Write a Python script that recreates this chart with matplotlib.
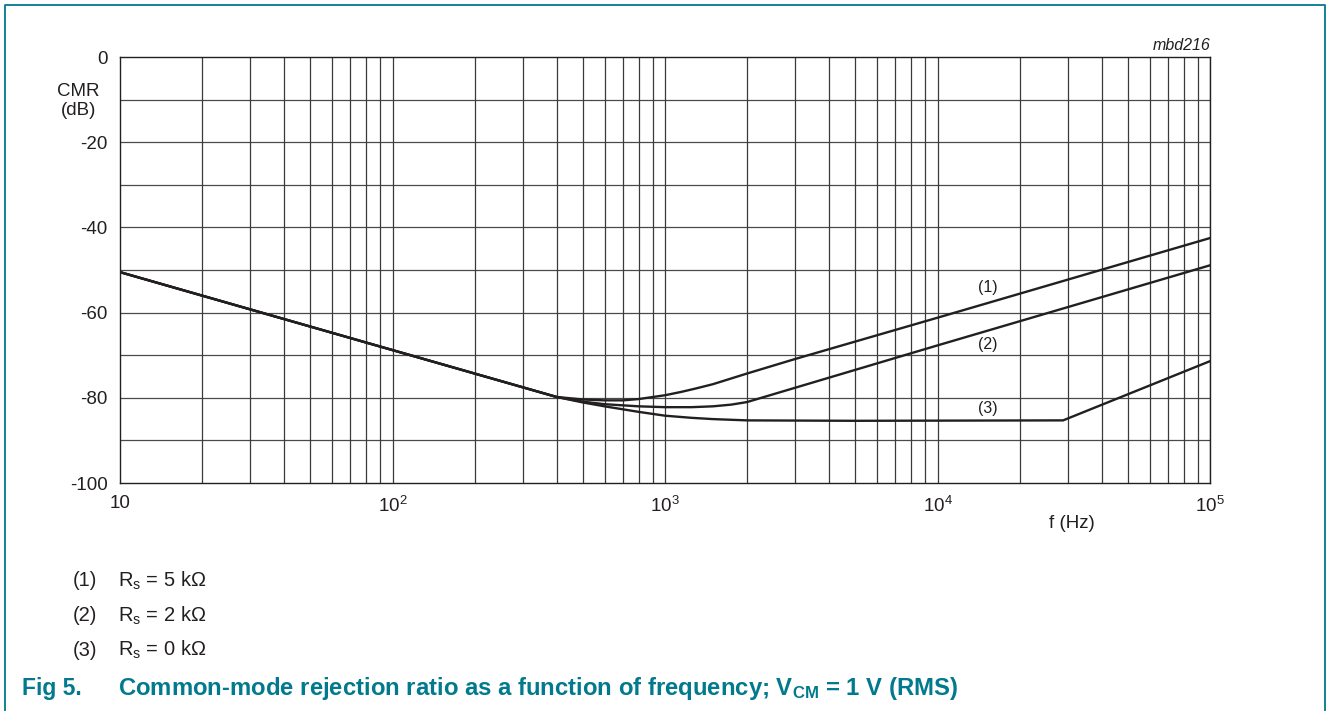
"""CMR versus frequency, three source resistances."""
import numpy as np
import matplotlib
matplotlib.use("Agg")
import matplotlib.pyplot as plt
from matplotlib.lines import Line2D

plt.rcParams['font.family'] = ['Liberation Sans', 'DejaVu Sans']
plt.rcParams['mathtext.fontset'] = 'custom'
plt.rcParams['mathtext.rm'] = 'Liberation Sans'
plt.rcParams['mathtext.it'] = 'Liberation Sans:italic'
plt.rcParams['mathtext.bf'] = 'Liberation Sans:bold'
plt.rcParams['axes.unicode_minus'] = False

TEAL = '#007A8C'
INK = '#231f20'

# curve (1): Rs = 5 kOhm
f1 = [10, 100, 400, 500, 600, 700, 800, 1000, 1150, 1300, 1500, 2000, 3000, 10000, 100000]
cmr1 = [-50.5, -68.8, -79.8, -80.4, -80.6, -80.6, -80.3, -79.4, -78.6, -77.8, -76.8, -74.3, -70.9, -61.2, -42.5]

# curve (2): Rs = 2 kOhm
f2 = [10, 100, 400, 500, 600, 800, 1000, 1250, 1500, 1750, 2000, 10000, 100000]
cmr2 = [-50.5, -68.8, -79.8, -80.9, -81.5, -82.0, -82.2, -82.2, -82.0, -81.6, -81.0, -67.7, -48.9]

# curve (3): Rs = 0 kOhm
f3 = [10, 100, 400, 500, 600, 800, 1000, 1250, 1500, 2000, 5000, 28900, 100000]
cmr3 = [-50.5, -68.8, -79.8, -81.1, -82.0, -83.3, -84.2, -84.7, -85.0, -85.3, -85.4, -85.3, -71.4]

curve_labels = ['(1)', '(2)', '(3)']
label_f = [15300, 15300, 15300]
label_db = [-54.0, -67.6, -82.4]

x_ticks = [10, 100, 1000, 10000, 100000]
x_ticklabels = ['10', r'$10^2$', r'$10^3$', r'$10^4$', r'$10^5$']
y_ticks = [0, -20, -40, -60, -80, -100]
y_ticklabels = ['0', '-20', '-40', '-60', '-80', '-100']

legend_rows = [('(1)', r'R$_\mathregular{s}$ = 5 k$\Omega$'),
               ('(2)', r'R$_\mathregular{s}$ = 2 k$\Omega$'),
               ('(3)', r'R$_\mathregular{s}$ = 0 k$\Omega$')]

W, H = 1327, 711
fig = plt.figure(figsize=(W / 100, H / 100), dpi=100)
ax = fig.add_axes([120 / W, 1 - 483 / H, 1090 / W, 426 / H])

ax.set_xscale('log')
ax.set_xlim(10, 1e5)
ax.set_ylim(-100, 0)

# grid: every 10 dB, and 1..9 per decade
for yv in range(-90, 0, 10):
    ax.axhline(yv, color='#4a4a4a', lw=0.9, zorder=1)
for dec in [10, 100, 1000, 10000]:
    for m in range(2, 11):
        ax.axvline(dec * m, color='#3a3a3a', lw=0.9, zorder=1)

for f, c in [(f1, cmr1), (f2, cmr2), (f3, cmr3)]:
    ax.plot(f, c, color=INK, lw=1.7, zorder=3, solid_capstyle='round',
            solid_joinstyle='round')

for lab, lf, ld in zip(curve_labels, label_f, label_db):
    ax.text(lf, ld, lab, ha='center', va='center', fontsize=11.5, color=INK, zorder=4)

ax.set_xticks(x_ticks)
ax.set_xticklabels(x_ticklabels)
ax.xaxis.set_minor_locator(matplotlib.ticker.NullLocator())
ax.set_yticks(y_ticks)
ax.set_yticklabels(y_ticklabels)
ax.tick_params(length=0, labelsize=13.5, colors=INK, pad=9)
for sp in ax.spines.values():
    sp.set_color(INK)
    sp.set_linewidth(1.0)

fig.text(78.5 / W, 1 - 101 / H, 'CMR\n(dB)', ha='center', va='center', fontsize=13.5,
         color=INK, linespacing=1.15)
fig.text(1072 / W, 1 - 524 / H, 'f (Hz)', ha='center', va='center', fontsize=13.5,
         color=INK)
fig.text(1210 / W, 1 - 46 / H, 'mbd216', ha='right', va='center', fontsize=11.5,
         style='italic', color=INK)

for i, (num, desc) in enumerate(legend_rows):
    yy = 1 - (581 + 34.5 * i) / H
    fig.text(72.5 / W, yy, num, ha='left', va='center', fontsize=14.5, color=INK)
    fig.text(117.5 / W, yy, desc, ha='left', va='center', fontsize=14.5, color=INK)

fig.text(22 / W, 1 - 688 / H, 'Fig 5.', ha='left', va='center', fontsize=16.5,
         fontweight='bold', color=TEAL)
fig.text(118 / W, 1 - 688 / H,
         r'Common-mode rejection ratio as a function of frequency; '
         r'V$_\mathbf{CM}$ = 1 V (RMS)',
         ha='left', va='center', fontsize=17.2, fontweight='bold', color=TEAL)

# frame around the figure
bx = [4.5 / W, 4.5 / W, 1325 / W, 1325 / W]
by = [0, 1 - 4.5 / H, 1 - 4.5 / H, 0]
fig.add_artist(Line2D(bx, by, transform=fig.transFigure, color=TEAL, lw=1.3))

fig.savefig('out.png', dpi=100)
